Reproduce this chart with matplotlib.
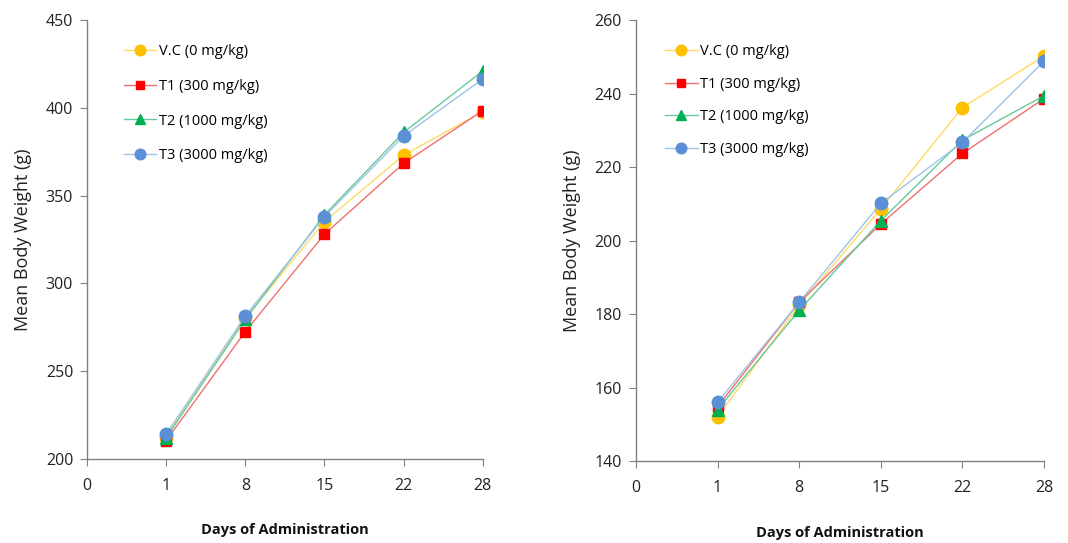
import matplotlib.pyplot as plt

plt.rcParams['font.family'] = ['Open Sans', 'DejaVu Sans']

days = ['1', '8', '15', '22', '28']
x_ticklabels = ['0'] + days

# left panel (g)
vc_left = [212.5, 280.0, 335.2, 373.0, 397.8]
t1_left = [210.4, 272.5, 328.0, 368.4, 398.4]
t2_left = [212.0, 279.5, 339.0, 386.0, 421.0]
t3_left = [214.0, 281.4, 338.0, 384.0, 416.4]

# right panel (g)
vc_right = [152.0, 182.4, 208.6, 236.2, 250.2]
t1_right = [154.8, 183.2, 204.5, 223.7, 238.6]
t2_right = [154.0, 181.0, 205.4, 227.3, 239.4]
t3_right = [156.0, 183.2, 210.1, 226.7, 248.8]

labels = ['V.C (0 mg/kg)', 'T1 (300 mg/kg)', 'T2 (1000 mg/kg)', 'T3 (3000 mg/kg)']
# (line colour, marker colour, marker, size)
styles = [('#FFD966', '#FFC000', 'o', 9),
          ('#F07070', '#FF0000', 's', 7),
          ('#66C99A', '#00B050', '^', 8),
          ('#9DC3E6', '#5B8FD6', 'o', 9)]


def draw(ax, series, ylim, yticks, leg_x, leg_sp):
    xs = range(1, len(days) + 1)
    for ys, lab, (lc, mc, mk, ms) in zip(series, labels, styles):
        ax.plot(xs, ys, '-', color=lc, lw=1.0, marker=mk, ms=ms,
                mfc=mc, mec=mc, label=lab)
    ax.set_xlim(0, len(days))
    ax.set_ylim(*ylim)
    ax.set_yticks(yticks)
    ax.set_xticks(range(len(x_ticklabels)))
    ax.set_xticklabels(x_ticklabels)
    for s in ['top', 'right']:
        ax.spines[s].set_visible(False)
    for s in ['left', 'bottom']:
        ax.spines[s].set_color('#808080')
        ax.spines[s].set_linewidth(1.0)
    ax.tick_params(direction='out', length=5, color='#808080',
                   labelsize=11.5, labelcolor='#222222', pad=9)
    ax.tick_params(axis='y', pad=5)
    ax.set_ylabel('Mean Body Weight (g)', fontsize=13, color='#222222', labelpad=10)
    ax.set_xlabel('Days of Administration', fontsize=10.5, fontweight='bold',
                  color='#111111', labelpad=21)
    ax.legend(loc='upper left', bbox_to_anchor=(leg_x, 0.975), frameon=False,
              fontsize=10.5, labelspacing=leg_sp, handlelength=2.2,
              handletextpad=0.2, markerscale=0.85)


fig = plt.figure(figsize=(10.68, 5.43), dpi=100)
ax1 = fig.add_axes([0.0815, 0.155, 0.3705, 0.808])
ax2 = fig.add_axes([0.5955, 0.151, 0.382, 0.812])

draw(ax1, [vc_left, t1_left, t2_left, t3_left], (200, 450), range(200, 451, 50), 0.06, 1.35)
draw(ax2, [vc_right, t1_right, t2_right, t3_right], (140, 260), range(140, 261, 20), 0.04, 1.2)

fig.savefig('out.png', dpi=100)
